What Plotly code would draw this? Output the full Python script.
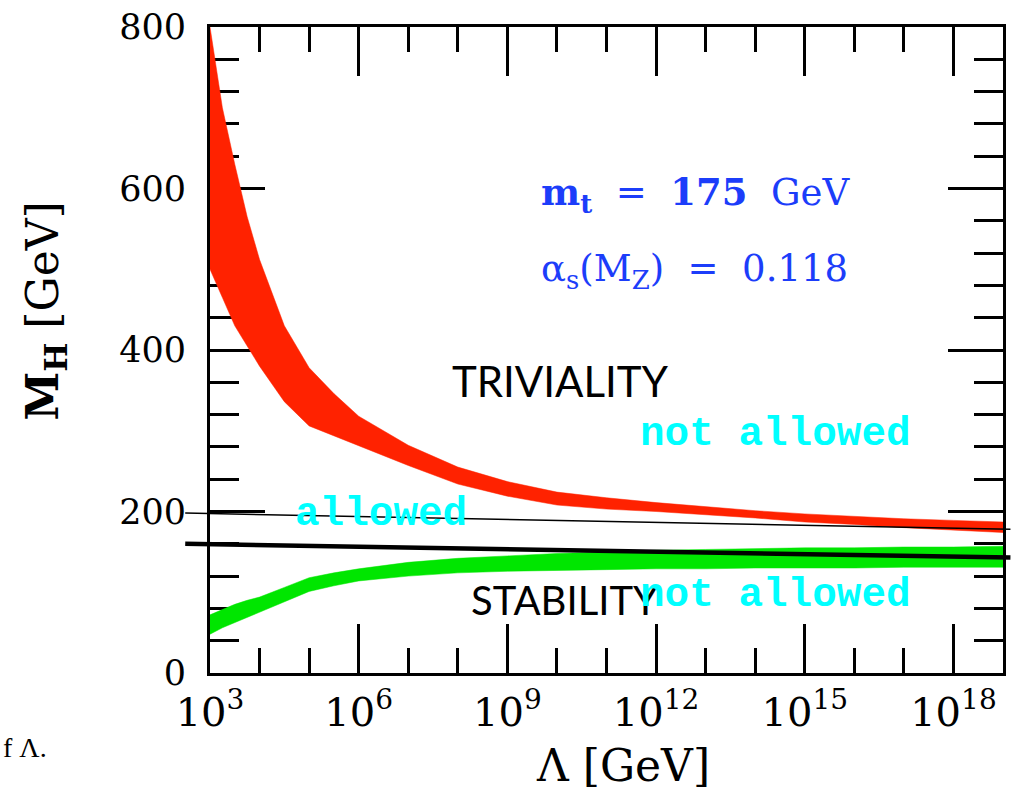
import plotly.graph_objects as go

# ---------------- data ----------------
log_lambda = [3, 3.25, 3.5, 3.75, 4, 4.5, 5, 5.5, 6, 7, 8, 9, 10, 11, 12, 13, 14, 15, 16, 17, 18, 19]
triviality_upper = [800, 700, 630, 565, 512, 430, 378, 346, 318, 282, 255, 237, 224, 217, 211, 206, 201, 197, 194, 191, 189, 187]
triviality_lower = [500, 465, 430, 405, 380, 336, 306, 293, 281, 257, 234, 219, 208, 203, 200, 196, 192, 187, 184, 180, 177, 174]
stability_upper = [72, 79, 85, 90, 94, 106, 118, 124, 129, 137, 142, 145, 148, 150, 152, 153, 154, 155, 155, 156, 156, 157]
stability_lower = [48, 56, 63, 69, 75, 88, 101, 108, 114, 120, 124, 126, 127, 128, 129, 129, 130, 130, 130, 131, 131, 131]

# overlaid straight lines (log10 Lambda at the two ends, M_H in GeV)
overlay_log_lambda = [2.5, 19.15]
thin_line_mh = [198, 178]
thick_line_mh = [160, 143]

x_tick_exponents = [3, 6, 9, 12, 15, 18]
x_minor_exponents = [4, 5, 7, 8, 10, 11, 13, 14, 16, 17, 19]
y_tick_values = [0, 200, 400, 600, 800]

X_RANGE = [3, 19]
Y_RANGE = [0, 800]

lam = [10 ** v for v in log_lambda]

fig = go.Figure()
fig.add_trace(go.Scatter(
    x=lam + lam[::-1], y=triviality_upper + triviality_lower[::-1],
    fill="toself", fillcolor="#ff2200", mode="lines",
    line=dict(width=0.5, color="#ff2200"),
    hoverinfo="skip", showlegend=False))
fig.add_trace(go.Scatter(
    x=lam + lam[::-1], y=stability_upper + stability_lower[::-1],
    fill="toself", fillcolor="#00e600", mode="lines",
    line=dict(width=0.5, color="#00e600"),
    hoverinfo="skip", showlegend=False))


def to_px(lg):
    return (lg - X_RANGE[0]) / (X_RANGE[1] - X_RANGE[0])


def to_py(v):
    return (v - Y_RANGE[0]) / (Y_RANGE[1] - Y_RANGE[0])


shapes = [
    dict(type="line", xref="paper", yref="paper",
         x0=to_px(overlay_log_lambda[0]), x1=to_px(overlay_log_lambda[1]),
         y0=to_py(thin_line_mh[0]), y1=to_py(thin_line_mh[1]),
         line=dict(color="black", width=1.5), layer="above"),
    dict(type="line", xref="paper", yref="paper",
         x0=to_px(overlay_log_lambda[0]), x1=to_px(overlay_log_lambda[1]),
         y0=to_py(thick_line_mh[0]), y1=to_py(thick_line_mh[1]),
         line=dict(color="black", width=4.5), layer="above"),
]

serif = "DejaVu Serif"
mono = "Liberation Mono"
NB = "\u00a0"

annotations = [
    dict(x=10.08, y=362, xref="x", yref="y", text="TRIVIALITY", showarrow=False,
         xanchor="center", yanchor="middle",
         font=dict(family="Lato", size=42, color="black")),
    dict(x=10.16, y=90, xref="x", yref="y", text="STABILITY", showarrow=False,
         xanchor="center", yanchor="middle",
         font=dict(family="Lato", size=40, color="black")),
    dict(x=14.4, y=296, xref="x", yref="y", text="<b>not allowed</b>", showarrow=False,
         xanchor="center", yanchor="middle",
         font=dict(family=mono, size=41, color="#00ffff")),
    dict(x=14.4, y=96, xref="x", yref="y", text="<b>not allowed</b>", showarrow=False,
         xanchor="center", yanchor="middle",
         font=dict(family=mono, size=41, color="#00ffff")),
    dict(x=6.44, y=197, xref="x", yref="y", text="<b>allowed</b>", showarrow=False,
         xanchor="center", yanchor="middle",
         font=dict(family=mono, size=41, color="#00ffff")),
    dict(x=9.63, y=593, xref="x", yref="y", xanchor="left", yanchor="middle",
         text=f"<b>m<sub>t</sub></b>{NB}{NB}={NB}{NB}<b>175</b>{NB}{NB}GeV", showarrow=False,
         font=dict(family=serif, size=37, color="#1c3dfa")),
    dict(x=9.63, y=498, xref="x", yref="y", xanchor="left", yanchor="middle",
         text=f"α<sub>s</sub>(M<sub>Z</sub>){NB}{NB}={NB}{NB}0.118", showarrow=False,
         font=dict(family=serif, size=37, color="#1c3dfa")),
    dict(x=-0.207, y=0.561, xref="paper", yref="paper", textangle=-90,
         xanchor="center", yanchor="middle",
         text="<b>M<sub>H</sub></b> [GeV]", showarrow=False,
         font=dict(family=serif, size=44, color="black")),
    dict(x=0.521, y=-0.143, xref="paper", yref="paper",
         xanchor="center", yanchor="middle",
         text="Λ [GeV]", showarrow=False,
         font=dict(family=serif, size=44, color="black")),
    dict(x=-0.264, y=-0.115, xref="paper", yref="paper", xanchor="left", yanchor="middle",
         text="f Λ.", showarrow=False,
         font=dict(family="Liberation Serif", size=28, color="black")),
]

fig.update_layout(
    width=1013, height=793,
    margin=dict(l=210, r=7, t=22, b=120, pad=0),
    paper_bgcolor="white", plot_bgcolor="white",
    showlegend=False,
    shapes=shapes,
    annotations=annotations,
    xaxis=dict(
        type="log", range=X_RANGE,
        tickvals=[10 ** e for e in x_tick_exponents],
        ticktext=[f"10<sup>{e}</sup>" for e in x_tick_exponents],
        ticks="inside", ticklen=49, tickwidth=3, tickcolor="black",
        minor=dict(tickvals=[10 ** e for e in x_minor_exponents], ticks="inside",
                   ticklen=25, tickwidth=3, tickcolor="black", showgrid=False),
        showline=True, linecolor="black", linewidth=3, mirror="allticks",
        showgrid=False, zeroline=False, layer="below traces",
        tickfont=dict(family=serif, size=40, color="black"),
        ticklabelstandoff=2,
    ),
    yaxis=dict(
        range=Y_RANGE,
        tickvals=y_tick_values,
        ticktext=[str(v) for v in y_tick_values],
        ticks="inside", ticklen=55, tickwidth=3, tickcolor="black",
        minor=dict(dtick=40, ticks="inside", ticklen=29, tickwidth=3,
                   tickcolor="black", showgrid=False),
        showline=True, linecolor="black", linewidth=3, mirror="allticks",
        showgrid=False, zeroline=False, layer="below traces",
        tickfont=dict(family=serif, size=35, color="black"),
        ticklabelstandoff=14,
    ),
)

fig.write_html("out.html")
